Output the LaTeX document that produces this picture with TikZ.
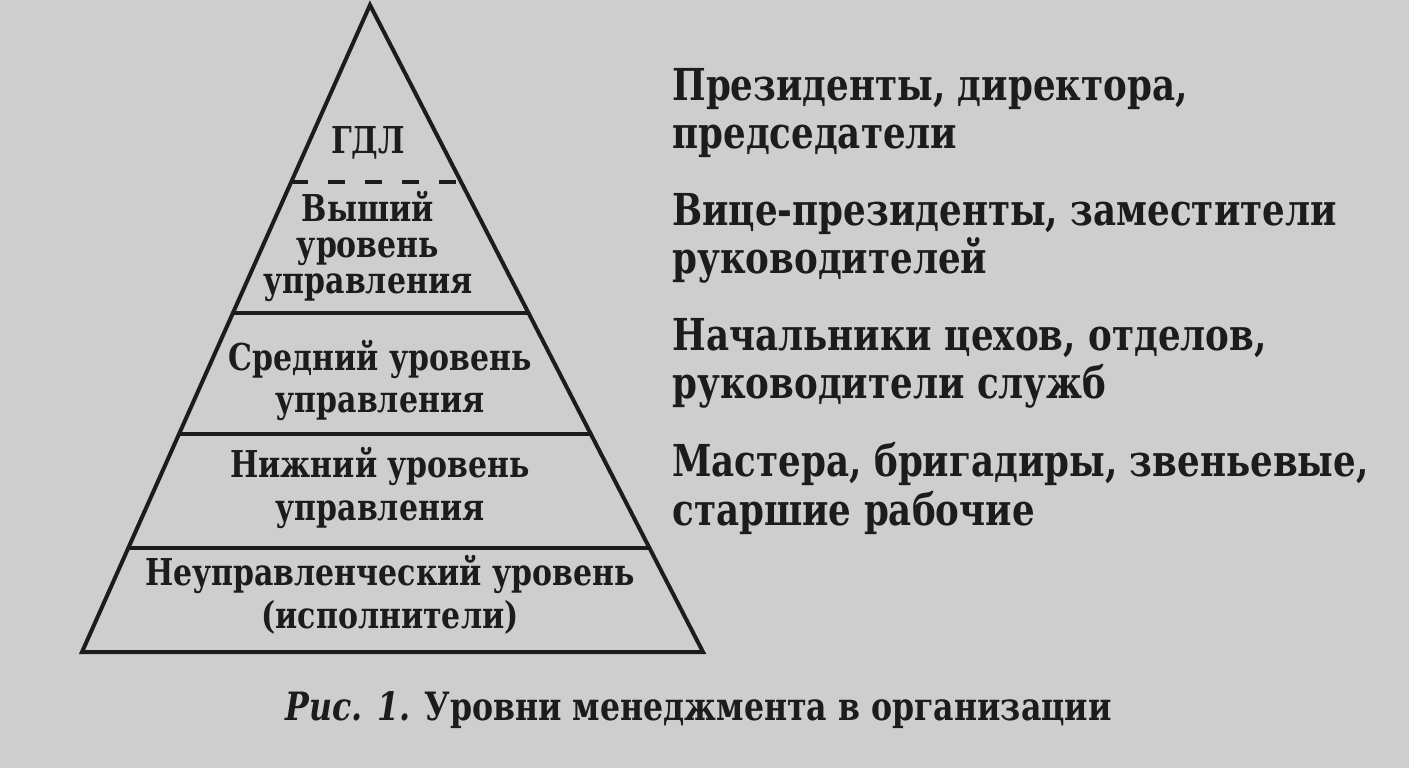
\documentclass[tikz,border=0pt]{standalone}
\usepackage{fontspec}
\setmainfont{DejaVu Serif}[FakeStretch=0.81]
\usetikzlibrary{calc}
\definecolor{paper}{RGB}{206,206,206}
\definecolor{ink}{RGB}{28,28,28}
\tikzset{
  edge/.style={draw=ink,line width=2pt,line cap=round,line join=miter},
  dashline/.style={draw=ink,line width=2pt,dash pattern=on 8.5pt off 10pt},
  intext/.style={text=ink,font=\bfseries\fontsize{18.5}{22}\selectfont,anchor=base,inner sep=0pt},
  sidetext/.style={text=ink,font=\bfseries\fontsize{22}{26}\selectfont,anchor=base west,inner sep=0pt},
  captext/.style={text=ink,font=\bfseries\fontsize{19.5}{24}\selectfont,anchor=base west,inner sep=0pt}
}
\begin{document}
\begin{tikzpicture}[x=0.5pt,y=-0.5pt]
\useasboundingbox[fill=paper] (0,0) rectangle (1409,768);
\coordinate (apex) at (370,5);
\coordinate (bl) at (82,652);
\coordinate (br) at (703,652);
\foreach \n/\t in {d/0.2736,a/0.476,b/0.663,c/0.839}{
  \coordinate (L\n) at ($(apex)!\t!(bl)$);
  \coordinate (R\n) at ($(apex)!\t!(br)$);
}
\draw[edge] (apex) -- (bl) -- (br) -- cycle;
\draw[dashline] (Ld) -- (Rd);
\draw[edge] (La) -- (Ra);
\draw[edge] (Lb) -- (Rb);
\draw[edge] (Lc) -- (Rc);

% texts in pyramid
\node[intext] (gdl) at (368,153) {ГДЛ};
\node[intext] (v1) at (368,221) {Выший};
\node[intext] (v2) at (368,257) {уровень};
\node[intext] (v3) at (368,293) {управления};
\node[intext] (s1) at (380,370) {Средний уровень};
\node[intext] (s2) at (380,412) {управления};
\node[intext] (n1) at (380,477) {Нижний уровень};
\node[intext] (n2) at (380,520) {управления};
\node[intext] (u1) at (390,585) {Неуправленческий уровень};
\node[intext] (u2) at (390,628) {(исполнители)};

% side texts
\node[sidetext] (r1) at (672,100) {Президенты, директора,};
\node[sidetext] (r2) at (672,148) {председатели};
\node[sidetext] (r3) at (672,225) {Вице-президенты, заместители};
\node[sidetext] (r4) at (672,273) {руководителей};
\node[sidetext] (r5) at (672,350) {Начальники цехов, отделов,};
\node[sidetext] (r6) at (672,398) {руководители служб};
\node[sidetext] (r7) at (672,476) {Мастера, бригадиры, звеньевые,};
\node[sidetext] (r8) at (672,525) {старшие рабочие};

\node[captext] (cap) at (285,720) {\textit{Рис. 1.} Уровни менеджмента в организации};
\end{tikzpicture}
\end{document}
